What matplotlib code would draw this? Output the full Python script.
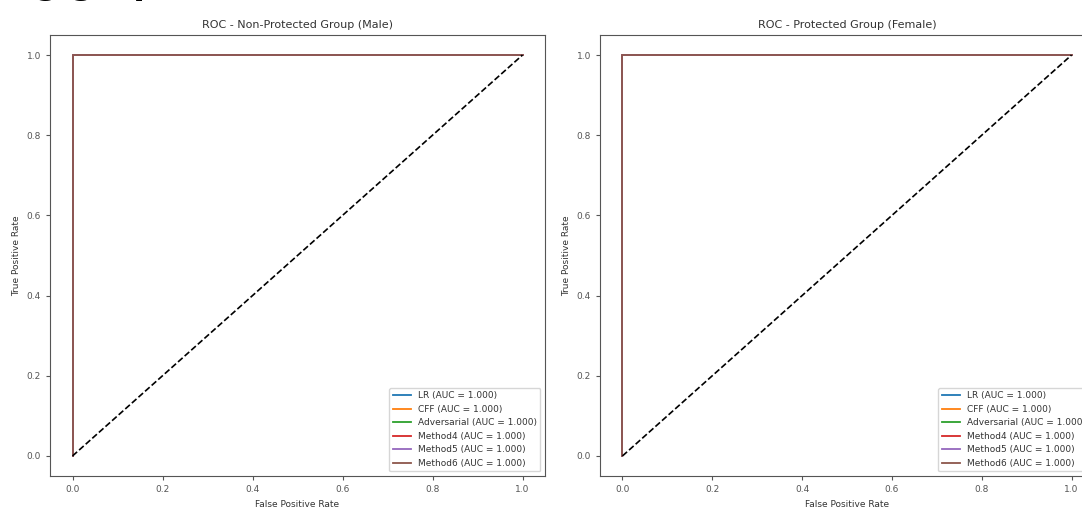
import numpy as np
import matplotlib.pyplot as plt

# ROC data (every model separates perfectly in both groups)
methods = ['LR', 'CFF', 'Adversarial', 'Method4', 'Method5', 'Method6']
auc_male = [1.000, 1.000, 1.000, 1.000, 1.000, 1.000]
auc_female = [1.000, 1.000, 1.000, 1.000, 1.000, 1.000]
fpr = [0.0, 0.0, 1.0]
tpr = [0.0, 1.0, 1.0]
titles = ['ROC - Non-Protected Group (Male)', 'ROC - Protected Group (Female)']
ticks = [0.0, 0.2, 0.4, 0.6, 0.8, 1.0]

fig = plt.figure(figsize=(10.82, 5.15), dpi=100)

# cropped heading from the page above the figure (only descenders show)
fig.text(0.0, 1 + 6 / 515, 'ing graph (ROC)', fontsize=24, fontweight='bold',
         va='baseline', ha='left')

ax1 = fig.add_axes([50 / 1082, 39 / 515, 495 / 1082, 441 / 515])
ax2 = fig.add_axes([600 / 1082, 39 / 515, 494 / 1082, 441 / 515])

for ax, title, aucs in zip([ax1, ax2], titles, [auc_male, auc_female]):
    for name, auc in zip(methods, aucs):
        ax.plot(fpr, tpr, label=f'{name} (AUC = {auc:.3f})', linewidth=1.3)
    ax.plot([0, 1], [0, 1], 'k--', linewidth=1.2)
    ax.set_title(title, fontsize=8, color='#333333', pad=5)
    ax.set_xlabel('False Positive Rate', fontsize=6.5, color='#333333')
    ax.set_ylabel('True Positive Rate', fontsize=6.5, color='#333333')
    ax.set_xticks(ticks)
    ax.set_yticks(ticks)
    ax.tick_params(labelsize=6.5, labelcolor='#555555', color='#555555', length=3)
    for s in ax.spines.values():
        s.set_color('#555555')
    ax.legend(loc='lower right', fontsize=6.5, labelcolor='#333333')

fig.savefig('out.png', dpi=100)
